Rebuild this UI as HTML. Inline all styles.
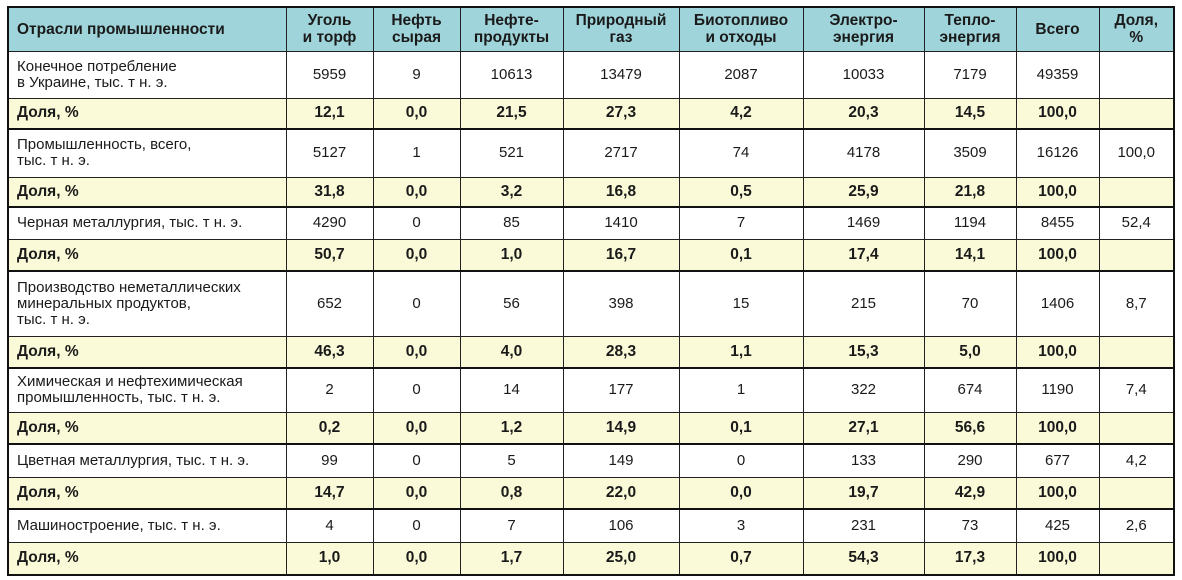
<!DOCTYPE html>
<html><head><meta charset="utf-8"><style>
html,body{margin:0;padding:0;background:#fff;width:1182px;height:580px;overflow:hidden}
table{position:absolute;left:7px;top:6px;border-collapse:collapse;table-layout:fixed;width:1166px;font-family:"Liberation Sans","DejaVu Sans",sans-serif;font-size:15px;color:#1a1a1a;border:2.5px solid #111}
td,th{border:1px solid #222;padding:0 8px;text-align:center;line-height:16px;box-sizing:border-box}
th{background:#9fd4da;font-weight:bold;font-size:15.5px;line-height:17px}
th:first-child{text-align:left}
td:first-child{text-align:left}
tr.d td{background:#fafad8;font-weight:bold;font-size:15.5px;border-bottom:2.5px solid #111}
</style></head><body>
<table>
<colgroup><col style="width:278px"><col style="width:87px"><col style="width:87px"><col style="width:103px"><col style="width:116px"><col style="width:124px"><col style="width:121px"><col style="width:92px"><col style="width:83px"><col style="width:75px"></colgroup>
<tr style="height:44px"><th>Отрасли промышленности</th><th>Уголь<br>и торф</th><th>Нефть<br>сырая</th><th>Нефте-<br>продукты</th><th>Природный<br>газ</th><th>Биотопливо<br>и отходы</th><th>Электро-<br>энергия</th><th>Тепло-<br>энергия</th><th>Всего</th><th>Доля,<br>%</th></tr>
<tr style="height:47px"><td>Конечное потребление<br>в Украине, тыс. т н. э.</td><td>5959</td><td>9</td><td>10613</td><td>13479</td><td>2087</td><td>10033</td><td>7179</td><td>49359</td><td></td></tr>
<tr class="d" style="height:31px"><td>Доля, %</td><td>12,1</td><td>0,0</td><td>21,5</td><td>27,3</td><td>4,2</td><td>20,3</td><td>14,5</td><td>100,0</td><td></td></tr>
<tr style="height:48px"><td>Промышленность, всего,<br>тыс. т н. э.</td><td>5127</td><td>1</td><td>521</td><td>2717</td><td>74</td><td>4178</td><td>3509</td><td>16126</td><td>100,0</td></tr>
<tr class="d" style="height:30px"><td>Доля, %</td><td>31,8</td><td>0,0</td><td>3,2</td><td>16,8</td><td>0,5</td><td>25,9</td><td>21,8</td><td>100,0</td><td></td></tr>
<tr style="height:32px"><td>Черная металлургия, тыс. т н. э.</td><td>4290</td><td>0</td><td>85</td><td>1410</td><td>7</td><td>1469</td><td>1194</td><td>8455</td><td>52,4</td></tr>
<tr class="d" style="height:32px"><td>Доля, %</td><td>50,7</td><td>0,0</td><td>1,0</td><td>16,7</td><td>0,1</td><td>17,4</td><td>14,1</td><td>100,0</td><td></td></tr>
<tr style="height:65px"><td>Производство неметаллических<br>минеральных продуктов,<br>тыс. т н. э.</td><td>652</td><td>0</td><td>56</td><td>398</td><td>15</td><td>215</td><td>70</td><td>1406</td><td>8,7</td></tr>
<tr class="d" style="height:32px"><td>Доля, %</td><td>46,3</td><td>0,0</td><td>4,0</td><td>28,3</td><td>1,1</td><td>15,3</td><td>5,0</td><td>100,0</td><td></td></tr>
<tr style="height:44px"><td>Химическая и нефтехимическая<br>промышленность, тыс. т н. э.</td><td>2</td><td>0</td><td>14</td><td>177</td><td>1</td><td>322</td><td>674</td><td>1190</td><td>7,4</td></tr>
<tr class="d" style="height:32px"><td>Доля, %</td><td>0,2</td><td>0,0</td><td>1,2</td><td>14,9</td><td>0,1</td><td>27,1</td><td>56,6</td><td>100,0</td><td></td></tr>
<tr style="height:33px"><td>Цветная металлургия, тыс. т н. э.</td><td>99</td><td>0</td><td>5</td><td>149</td><td>0</td><td>133</td><td>290</td><td>677</td><td>4,2</td></tr>
<tr class="d" style="height:32px"><td>Доля, %</td><td>14,7</td><td>0,0</td><td>0,8</td><td>22,0</td><td>0,0</td><td>19,7</td><td>42,9</td><td>100,0</td><td></td></tr>
<tr style="height:33px"><td>Машиностроение, тыс. т н. э.</td><td>4</td><td>0</td><td>7</td><td>106</td><td>3</td><td>231</td><td>73</td><td>425</td><td>2,6</td></tr>
<tr class="d" style="height:33px"><td>Доля, %</td><td>1,0</td><td>0,0</td><td>1,7</td><td>25,0</td><td>0,7</td><td>54,3</td><td>17,3</td><td>100,0</td><td></td></tr>
</table>
</body></html>
